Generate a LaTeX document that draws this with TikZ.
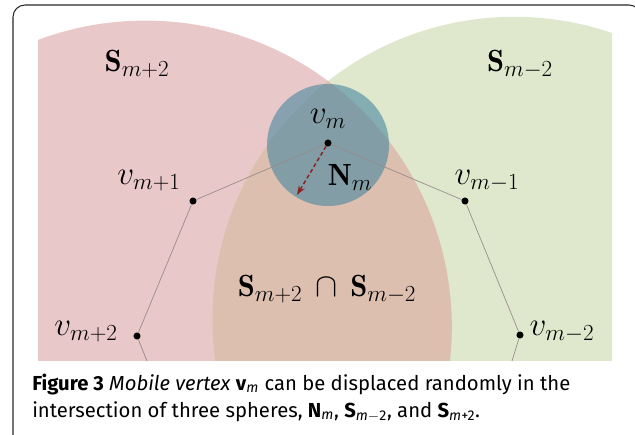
\documentclass[tikz,border=0pt]{standalone}
\usepackage{fontspec}
\newfontfamily\capfont{Fira Sans}
\usetikzlibrary{arrows.meta}

\definecolor{sphereRed}{RGB}{233,200,201}
\definecolor{sphereGreen}{RGB}{223,232,204}
\definecolor{sphereBoth}{RGB}{220,191,174}
\definecolor{nbhBlue}{RGB}{70,135,160}
\definecolor{chainGray}{RGB}{150,138,140}
\definecolor{moveRed}{RGB}{140,35,35}
\definecolor{frameGray}{RGB}{40,40,40}

\begin{document}
\begin{tikzpicture}[x=0.75pt, y=-0.75pt,
    lbl/.style={font=\fontsize{23}{26}\selectfont, inner sep=0pt},
    vdot/.style={circle, fill=black, inner sep=0pt, minimum size=5.3pt},
    chain/.style={draw=chainGray, line width=0.5pt},
    move/.style={draw=moveRed, line width=1.1pt, dash pattern=on 3pt off 2pt, -{Stealth[length=7pt,width=5pt]}},
    capline/.style={anchor=base west, inner sep=0pt, font=\capfont\fontsize{15.2}{20}\selectfont}]

    \useasboundingbox (0,0) rectangle (635,435);

    % Page frame
    \draw[frameGray, line width=0.8pt, rounded corners=9] (13,440) -- (13,5) -- (641,5) -- (641,440);

    % Spheres
    \begin{scope}
        \clip (38,0) rectangle (612,360);
        \fill[sphereRed] (145.3,327.1) circle[radius=306.5];
        \fill[sphereGreen] (514.3,318.8) circle[radius=302];
        \begin{scope}
            \clip (145.3,327.1) circle[radius=306.5];
            \fill[sphereBoth] (514.3,318.8) circle[radius=302];
        \end{scope}
        \fill[nbhBlue, fill opacity=0.6] (328,145) circle[radius=61];
    \end{scope}

    % Vertices of the chain
    \node[vdot] (vm) at (328,143) {};
    \node[vdot] (vmp1) at (193,201) {};
    \node[vdot] (vmm1) at (465,201) {};
    \node[vdot] (vmp2) at (137,336) {};
    \node[vdot] (vmm2) at (520,335) {};
    \coordinate (endL) at (147,361);
    \coordinate (endR) at (512,361);
    \coordinate (target) at (297,195);

    % Chain
    \draw[chain] (endL) -- (vmp2) -- (vmp1) -- (vm) -- (vmm1) -- (vmm2) -- (endR);

    % Random displacement
    \draw[move] (vm) -- (target);

    % Labels
    \node[lbl] (lSp) at (137,64) {$\mathbf{S}_{m+2}$};
    \node[lbl] (lSm) at (520,64) {$\mathbf{S}_{m-2}$};
    \node[lbl] (lvm) at (328,119) {$v_m$};
    \node[lbl] (lN) at (350,177) {$\mathbf{N}_m$};
    \node[lbl] (lvp1) at (149,181) {$v_{m+1}$};
    \node[lbl] (lvm1) at (487,181) {$v_{m-1}$};
    \node[lbl] (lvp2) at (86,332) {$v_{m+2}$};
    \node[lbl] (lvm2) at (562,332) {$v_{m-2}$};
    \node[lbl] (lcap) at (327,289) {$\mathbf{S}_{m+2}\,\cap\,\mathbf{S}_{m-2}$};

    % Caption
    \node[capline] (cap1) at (32,390)
        {\textbf{Figure 3} \textit{Mobile vertex} \textbf{v}\textsubscript{\textit{m}} can be displaced randomly in the};
    \node[capline] (cap2) at (32,417)
        {intersection of three spheres, \textbf{N}\textsubscript{\textit{m}}, \textbf{S}\textsubscript{\textit{m}$-$2}, and \textbf{S}\textsubscript{\textit{m}+2}.};

\end{tikzpicture}
\end{document}
